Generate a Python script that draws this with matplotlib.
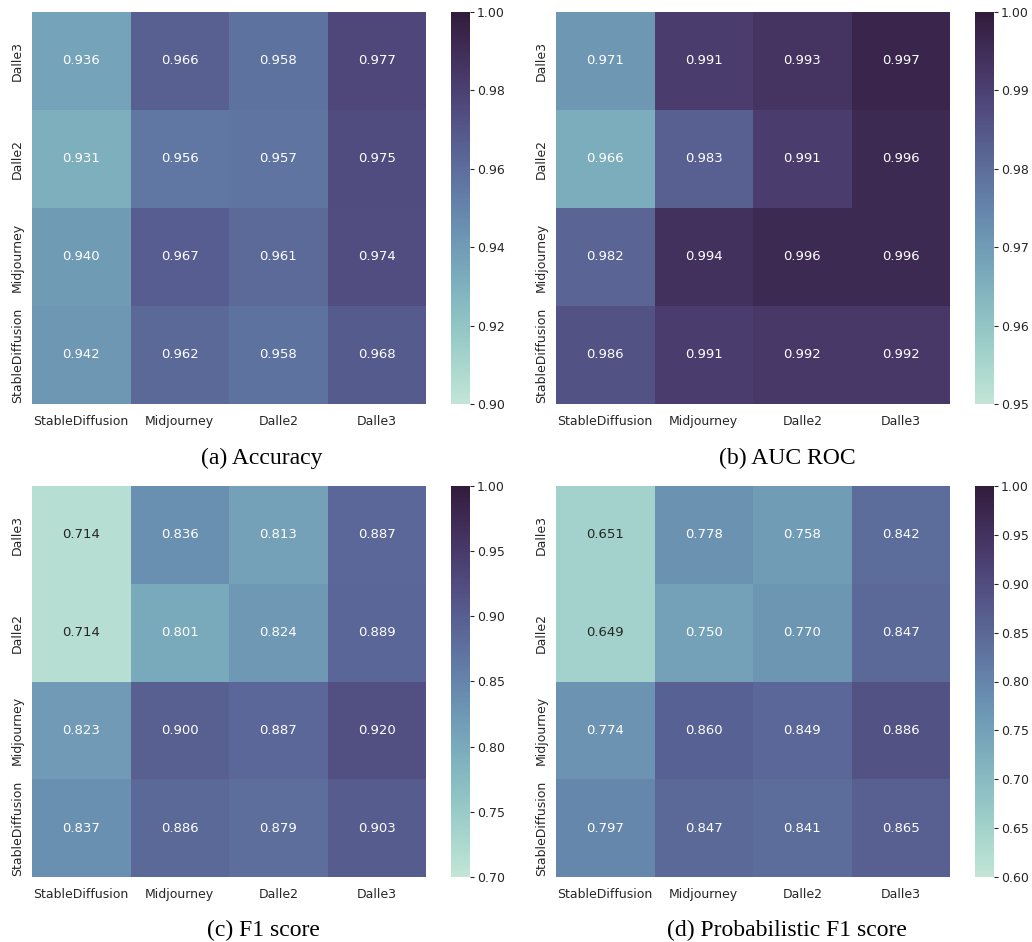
import numpy as np
import matplotlib
matplotlib.use("Agg")
import matplotlib.pyplot as plt
import seaborn as sns

# ------------------------------------------------------------------
# data (rows top -> bottom, cols left -> right)
# ------------------------------------------------------------------
train_labels = ["Dalle3", "Dalle2", "Midjourney", "StableDiffusion"]
test_labels = ["StableDiffusion", "Midjourney", "Dalle2", "Dalle3"]

accuracy = [
    [0.936, 0.966, 0.958, 0.977],
    [0.931, 0.956, 0.957, 0.975],
    [0.940, 0.967, 0.961, 0.974],
    [0.942, 0.962, 0.958, 0.968],
]
auc_roc = [
    [0.971, 0.991, 0.993, 0.997],
    [0.966, 0.983, 0.991, 0.996],
    [0.982, 0.994, 0.996, 0.996],
    [0.986, 0.991, 0.992, 0.992],
]
f1 = [
    [0.714, 0.836, 0.813, 0.887],
    [0.714, 0.801, 0.824, 0.889],
    [0.823, 0.900, 0.887, 0.920],
    [0.837, 0.886, 0.879, 0.903],
]
prob_f1 = [
    [0.651, 0.778, 0.758, 0.842],
    [0.649, 0.750, 0.770, 0.847],
    [0.774, 0.860, 0.849, 0.886],
    [0.797, 0.847, 0.841, 0.865],
]

captions = ["(a) Accuracy", "(b) AUC ROC", "(c) F1 score", "(d) Probabilistic F1 score"]
ranges = [(0.90, 1.00), (0.95, 1.00), (0.70, 1.00), (0.60, 1.00)]

# ------------------------------------------------------------------
# layout (pixel boxes on a 1032x942 canvas)
# ------------------------------------------------------------------
W, H = 1032, 942
sns.set_theme(style="white")
plt.rcParams["font.family"] = ["DejaVu Sans"]

fig = plt.figure(figsize=(W / 100, H / 100), dpi=100)
cmap = sns.cubehelix_palette(start=.5, rot=-.5, as_cmap=True)


def box(x0, y0, x1, y1):
    return [x0 / W, 1 - y1 / H, (x1 - x0) / W, (y1 - y0) / H]


panels = [
    (accuracy, (32, 12, 426, 404), (451, 12, 470, 404), (262, 458)),
    (auc_roc, (556, 12, 950, 404), (975, 12, 994, 404), (787, 458)),
    (f1, (32, 486, 426, 877), (451, 486, 470, 877), (263, 930)),
    (prob_f1, (556, 486, 950, 877), (975, 486, 994, 877), (787, 930)),
]

for (vals, hb, cb, cap), text, (vmin, vmax) in zip(panels, captions, ranges):
    ax = fig.add_axes(box(*hb))
    cax = fig.add_axes(box(*cb))
    sns.heatmap(np.array(vals), ax=ax, cbar_ax=cax, cmap=cmap, vmin=vmin, vmax=vmax,
                annot=True, fmt=".3f", annot_kws={"fontsize": 9.5},
                xticklabels=test_labels, yticklabels=train_labels)
    ax.tick_params(axis="both", length=0, labelsize=9, colors=".15")
    ax.tick_params(axis="x", pad=8)
    ax.tick_params(axis="y", pad=6)
    plt.setp(ax.get_xticklabels(), rotation=0, ha="center")
    plt.setp(ax.get_yticklabels(), rotation=90, va="center")
    cax.tick_params(labelsize=9, length=3, width=0.8, colors=".15", pad=2)
    fig.text(cap[0] / W, 1 - cap[1] / H, text, ha="center", va="center",
             fontsize=17, family="Liberation Serif", color="black")

fig.savefig("out.png", dpi=100)
